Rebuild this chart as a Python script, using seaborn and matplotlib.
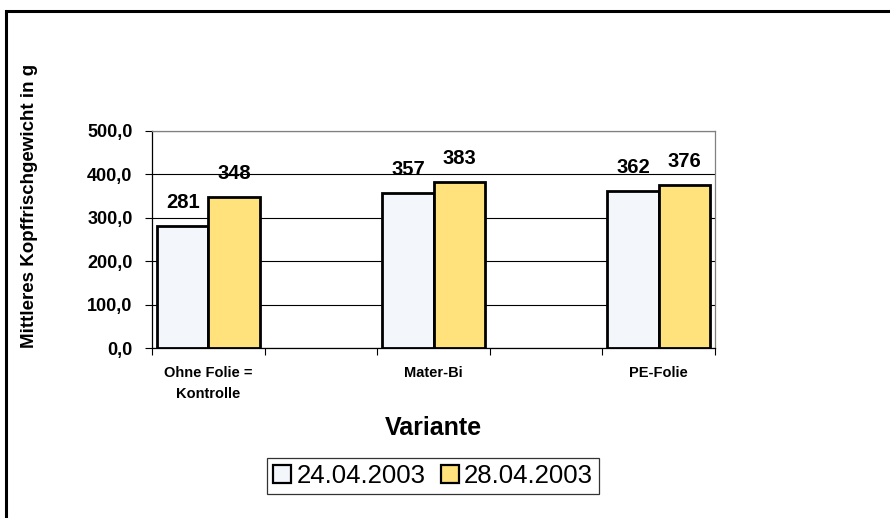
import numpy as np
import pandas as pd
import matplotlib
matplotlib.use("Agg")
import matplotlib.pyplot as plt
from matplotlib.patches import Rectangle
import seaborn as sns

# values
varianten = ["Ohne Folie =\nKontrolle", "Mater-Bi", "PE-Folie"]
termine = ["24.04.2003", "28.04.2003"]
werte_24 = [281, 357, 362]
werte_28 = [348, 383, 376]
y_ticks = [0, 100, 200, 300, 400, 500]

# Excel layout leaves an empty slot between the groups
slots = [varianten[0], "_gap1", varianten[1], "_gap2", varianten[2]]

df = pd.DataFrame({
    "Variante": varianten * 2,
    "Termin": [termine[0]] * 3 + [termine[1]] * 3,
    "Gewicht": werte_24 + werte_28,
})

sns.set_style("white")
plt.rcParams["font.family"] = ["Liberation Sans", "DejaVu Sans"]
plt.rcParams["text.color"] = "black"
plt.rcParams["xtick.color"] = "black"
plt.rcParams["ytick.color"] = "black"
plt.rcParams["axes.labelcolor"] = "black"

fig = plt.figure(figsize=(8.9, 5.18), dpi=100)
ax = fig.add_axes([152 / 890, 1 - 348 / 518, (715 - 152) / 890, (348 - 131) / 518])

sns.barplot(data=df, x="Variante", y="Gewicht", hue="Termin", order=slots,
            hue_order=termine, palette=["#F3F6FB", "#FFE27C"], width=0.91,
            edgecolor="black", linewidth=2.0, saturation=1, ax=ax, legend=True)

for cont in ax.containers:
    ax.bar_label(cont, fmt="%d", padding=10, fontsize=14.5, fontweight="bold",
                 color="black")

ax.set_ylim(0, 500)
ax.set_xlim(-0.5, len(slots) - 0.5)
ax.set_yticks(y_ticks)
ax.set_yticklabels([f"{v:.1f}".replace(".", ",") for v in y_ticks],
                   fontsize=13, fontweight="bold")
ax.yaxis.grid(True, color="black", linewidth=0.8)
ax.set_axisbelow(True)

# major ticks at slot borders, labels at slot centres
ax.set_xticks(np.arange(-0.5, len(slots), 1.0))
ax.set_xticklabels([])
ax.set_xticks(range(len(slots)), minor=True)
ax.set_xticklabels([s if not s.startswith("_") else "" for s in slots], minor=True,
                   fontsize=10.5, fontweight="bold", linespacing=1.6)
ax.tick_params(axis="x", which="major", direction="out", length=5, width=0.8,
               color="black", bottom=True)
ax.tick_params(axis="x", which="minor", length=0, pad=13)
ax.tick_params(axis="y", direction="out", length=5, width=0.8, color="black",
               left=True, pad=9)
ax.set_xlabel("")
ax.set_ylabel("")

for side in ["left", "bottom"]:
    ax.spines[side].set_color("black")
    ax.spines[side].set_linewidth(0.9)
for side in ["top", "right"]:
    ax.spines[side].set_visible(True)
    ax.spines[side].set_color("#808080")
    ax.spines[side].set_linewidth(0.9)

handles, labels = ax.get_legend_handles_labels()
ax.get_legend().remove()
leg = fig.legend(handles, labels, loc="center", bbox_to_anchor=(433 / 890, 1 - 476 / 518),
                 ncol=2, fontsize=18.5, frameon=True, fancybox=False, edgecolor="black",
                 handlelength=0.7, handleheight=0.7, handletextpad=0.2,
                 columnspacing=0.6, borderpad=0.25, borderaxespad=0)
leg.get_frame().set_linewidth(0.9)
for h in leg.legend_handles:
    h.set_linewidth(1.6)

fig.text(433 / 890, 1 - 428 / 518, "Variante", ha="center", va="center",
         fontsize=18, fontweight="bold")
fig.text(30 / 890, 1 - 206 / 518, "Mittleres Kopffrischgewicht in g", rotation=90,
         ha="center", va="center", fontsize=13.5, fontweight="bold")

# outer chart border (only top and left edge fall inside the picture)
fig.add_artist(Rectangle((5.5 / 890, -0.2), 1.2, 1.2 - 11 / 518, transform=fig.transFigure,
                         fill=False, edgecolor="black", linewidth=2.2, clip_on=False))

fig.savefig("out.png", dpi=100)
